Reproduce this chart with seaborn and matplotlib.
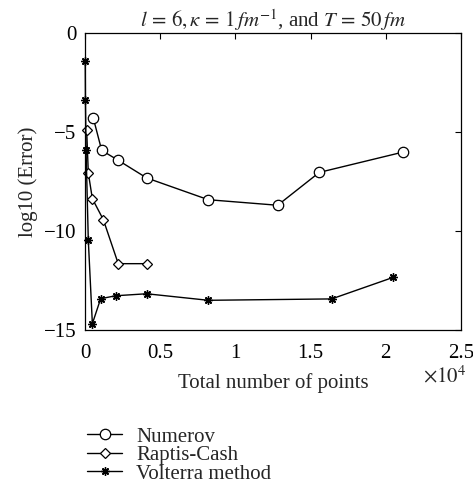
import matplotlib
matplotlib.use("Agg")
import matplotlib.pyplot as plt
import seaborn as sns
import pandas as pd

# Error (log10) versus total number of grid points for three solvers
numerov_n = [550, 1110, 2210, 4100, 8200, 12810, 15580, 21170]
numerov_err = [-4.29, -5.93, -6.43, -7.32, -8.42, -8.70, -7.04, -6.01]

raptis_n = [110, 220, 490, 1220, 2210, 4100]
raptis_err = [-4.88, -7.07, -8.37, -9.43, -11.65, -11.65]

volterra_n = [15, 30, 70, 220, 490, 1040, 2040, 4100, 8200, 16400, 20500]
volterra_err = [-1.43, -3.40, -5.93, -10.47, -14.68, -13.42, -13.27, -13.17, -13.50, -13.43, -12.34]

series_names = ["Numerov", "Raptis-Cash", "Volterra method"]

sns.set_theme(style="white")
plt.rcParams["font.family"] = ["Liberation Serif", "DejaVu Serif"]
plt.rcParams["mathtext.fontset"] = "stix"
plt.rcParams["axes.unicode_minus"] = True
FS = 15

fig = plt.figure(figsize=(4.73, 4.87), dpi=100)
ax = fig.add_axes([85 / 473, 1 - 330 / 487, (461 - 85) / 473, (330 - 33) / 487])

frames = [
    pd.DataFrame({"n": numerov_n, "err": numerov_err}),
    pd.DataFrame({"n": raptis_n, "err": raptis_err}),
    pd.DataFrame({"n": volterra_n, "err": volterra_err}),
]
styles = [
    dict(marker="o", markersize=7.5, markerfacecolor="white", markeredgewidth=0.9),
    dict(marker="D", markersize=5.5, markerfacecolor="white", markeredgewidth=0.9),
    dict(marker=(8, 2, 0), markersize=6, markeredgewidth=1.0),
]
for df, name, st in zip(frames, series_names, styles):
    sns.lineplot(x=df["n"] / 1e4, y=df["err"], ax=ax, color="black", linewidth=1.0,
                 markeredgecolor="black", label=name, sort=False, clip_on=False, **st)

ax.set_xlim(0, 2.5)
ax.set_ylim(-15, 0)
ax.set_xticks([0, 0.5, 1, 1.5, 2, 2.5])
ax.set_xticklabels(["0", "0.5", "1", "1.5", "2", "2.5"])
ax.set_yticks([0, -5, -10, -15])
ax.set_yticklabels(["0", "\u22125", "\u221210", "\u221215"])
ax.tick_params(direction="in", length=4, width=0.8, top=True, right=True,
               labelsize=FS, colors="black")
ax.tick_params(axis="x", pad=10)
ax.tick_params(axis="y", pad=6)
for sp in ax.spines.values():
    sp.set_color("black")
    sp.set_linewidth(0.9)

ax.set_xlabel("Total number of points", fontsize=FS, labelpad=7)
ax.set_ylabel("log10 (Error)", fontsize=FS, labelpad=4)
ax.set_title(r"$l\,=\,6,\kappa\,=\,1\,fm^{-1}$, and $T\,=\,50\,fm$", fontsize=FS, pad=4)
fig.text(466 / 473, 1 - 377 / 487, r"$\times10^{4}$", fontsize=FS, ha="right", va="center")

ax.legend(loc="upper left", bbox_to_anchor=(87 / 473, 1 - 427 / 487),
          bbox_transform=fig.transFigure, frameon=False, fontsize=FS,
          handlelength=1.7, handletextpad=0.65, labelspacing=-0.05, borderaxespad=0,
          borderpad=0)

fig.savefig("out.png", dpi=100)
